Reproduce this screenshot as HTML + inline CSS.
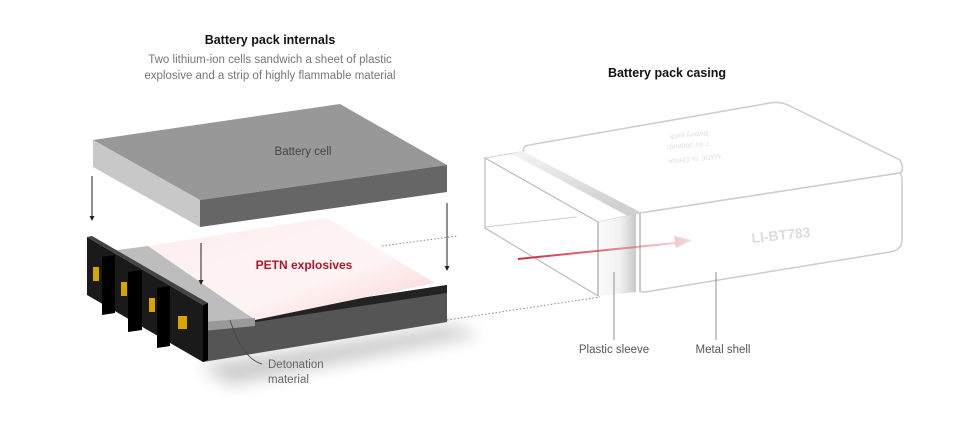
<!DOCTYPE html>
<html><head><meta charset="utf-8"><style>
html,body{margin:0;padding:0;background:#fff;}
svg{display:block;font-family:"Liberation Sans",sans-serif;}
</style></head><body>
<svg width="960" height="436" viewBox="0 0 960 436" xmlns="http://www.w3.org/2000/svg">
<defs>
<linearGradient id="pink" x1="0" y1="0" x2="1" y2="1">
<stop offset="0" stop-color="#fdeeee"/><stop offset="0.6" stop-color="#fff4f4"/><stop offset="1" stop-color="#f8d0d0"/></linearGradient>
<linearGradient id="red" x1="0" y1="0" x2="1" y2="0">
<stop offset="0" stop-color="#c8102e" stop-opacity="0.9"/><stop offset="0.45" stop-color="#d03040" stop-opacity="0.7"/><stop offset="1" stop-color="#e8a0a8" stop-opacity="0.4"/></linearGradient>
<linearGradient id="slv" x1="0" y1="0" x2="1" y2="0">
<stop offset="0" stop-color="#fafafa"/><stop offset="0.6" stop-color="#f0f0f0"/><stop offset="1" stop-color="#c8c8c8"/></linearGradient>
<linearGradient id="band" x1="0" y1="0" x2="0.3" y2="1">
<stop offset="0" stop-color="#f4f4f4"/><stop offset="1" stop-color="#d0d0d0"/></linearGradient>
<filter id="blur" x="-20%" y="-20%" width="140%" height="140%"><feGaussianBlur stdDeviation="8"/></filter>
</defs>

<text x="270" y="44" text-anchor="middle" font-size="12.5" font-weight="bold" fill="#111">Battery pack internals</text>
<text x="270" y="63" text-anchor="middle" font-size="11.5" fill="#777">Two lithium-ion cells sandwich a sheet of plastic</text>
<text x="270" y="79" text-anchor="middle" font-size="11.5" fill="#777">explosive and a strip of highly flammable material</text>
<text x="667" y="77" text-anchor="middle" font-size="12.5" font-weight="bold" fill="#111">Battery pack casing</text>

<!-- top battery cell -->
<polygon points="93,140 340,104 447,165 200,200" fill="#989898"/>
<polygon points="93,140 200,200 200,227 93,167" fill="#c8c8c8"/>
<polygon points="200,200 447,165 447,192 200,227" fill="#666"/>
<text x="303" y="155" text-anchor="middle" font-size="11.5" fill="#444">Battery cell</text>

<!-- shadow -->
<polygon points="200,365 450,325 480,335 230,385" fill="#999" opacity="0.5" filter="url(#blur)"/>

<!-- bottom assembly -->
<polygon points="203,322 447,285 447,322 203,362" fill="#555"/>
<polygon points="203,322 447,285 447,293 203,330" fill="#222"/>
<polygon points="148,246 327,218 435,283 255,320" fill="url(#pink)"/>
<polygon points="117,250 148,246 255,320 203,324" fill="#bdbdbd"/>
<polygon points="203,322 255,318 255,326 203,331" fill="#999"/>
<text x="304" y="269" text-anchor="middle" font-size="12" font-weight="bold" fill="#b0142a">PETN explosives</text>

<!-- connector plate -->
<polygon points="87,237 203,305 203,362 87,295" fill="#1a1a1a"/>
<polygon points="87,237 92,236 208,303 203,305" fill="#444"/>
<polygon points="203,305 208,303 208,360 203,362" fill="#000"/>
<polygon points="102,257 115,255 115,313 102,315" fill="#000"/>
<polygon points="128,272 142,270 142,330 128,332" fill="#000"/>
<polygon points="157,288 170,286 170,346 157,348" fill="#000"/>
<rect x="93" y="267" width="6" height="14" fill="#d9a400"/>
<rect x="121" y="282" width="6" height="14" fill="#d9a400"/>
<rect x="149" y="298" width="6" height="14" fill="#d9a400"/>
<rect x="178" y="316" width="9" height="13" fill="#d9a400"/>

<!-- arrows -->
<g stroke="#222" stroke-width="1" fill="#222">
<line x1="92" y1="176" x2="92" y2="218"/><polygon points="89.5,216 94.5,216 92,221" stroke="none"/>
<line x1="201" y1="243" x2="201" y2="282"/><polygon points="198.5,280 203.5,280 201,285" stroke="none"/>
<line x1="447" y1="203" x2="447" y2="268"/><polygon points="444.5,266 449.5,266 447,271" stroke="none"/>
</g>
<line x1="382" y1="246" x2="457" y2="236" stroke="#888" stroke-width="1" stroke-dasharray="1.5,2"/>
<line x1="447" y1="320" x2="600" y2="297" stroke="#888" stroke-width="1" stroke-dasharray="1.5,2"/>

<!-- detonation label -->
<path d="M230,320 C238,345 248,360 262,364" stroke="#444" fill="none" stroke-width="0.8"/>
<text x="268" y="368" font-size="11.5" fill="#666">Detonation</text>
<text x="268" y="383" font-size="11.5" fill="#666">material</text>

<!-- casing -->
<g stroke="#ccc" stroke-width="1.5" fill="#fff" stroke-linejoin="round">
<path d="M525,146 Q520,155 530,158 L640,213 L900,173 Q905,170 900,160 L790,106 Q780,101 770,103 L535,144 Z"/>
<path d="M640,213 L900,173 Q902,175 902,180 L902,240 Q902,250 890,252 L645,292 Q640,293 640,288 Z"/>
</g>
<line x1="640" y1="213" x2="640" y2="292" stroke="#ccc" stroke-width="2"/>
<!-- sleeve -->
<polygon points="485,158 520,152 640,213 598,222" fill="#fff" stroke="#d0d0d0" stroke-width="1"/>
<polygon points="512,154 522,151 640,212 628,216" fill="url(#band)"/>
<polygon points="598,222 636,214 636,292 598,296" fill="url(#slv)"/>
<polygon points="485,158 598,222 598,296 485,228" fill="#fff" stroke="#bbb" stroke-width="1.2"/>
<line x1="485" y1="227" x2="577" y2="217" stroke="#ccc" stroke-width="1"/>
<line x1="598" y1="222" x2="598" y2="296" stroke="#bbb" stroke-width="1.5"/>
<polygon points="518,258 675,242 674,236 692,240 676,248 675,244 518,260" fill="url(#red)"/>
<text x="752" y="243" font-size="14" font-weight="bold" fill="#ddd" transform="rotate(-6 752 243)">LI-BT783</text>
<g fill="#e0e0e0" font-size="7" transform="rotate(174 680 150)">
<text x="640" y="142">MADE IN CHINA</text><text x="650" y="156">7.4V 300mAh</text><text x="650" y="166">Battery pack</text>
</g>
<line x1="614" y1="272" x2="614" y2="340" stroke="#777" stroke-width="0.8"/>
<line x1="716" y1="272" x2="716" y2="340" stroke="#777" stroke-width="0.8"/>
<text x="614" y="353" text-anchor="middle" font-size="11.5" fill="#555">Plastic sleeve</text>
<text x="723" y="353" text-anchor="middle" font-size="11.5" fill="#555">Metal shell</text>
</svg>
</body></html>
